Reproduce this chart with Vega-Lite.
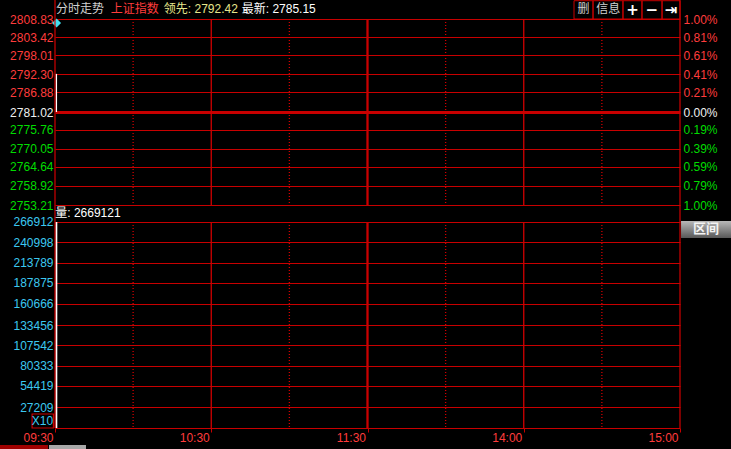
{
  "$schema": "https://vega.github.io/schema/vega-lite/v6.json",
  "width": 625,
  "height": 428,
  "autosize": {"type": "none"},
  "padding": {"left": 55, "top": 0, "right": 51, "bottom": 21},
  "background": "#000000",
  "config": {
    "view": {"stroke": null},
    "axis": {"labelFont": "Liberation Sans", "labelFontSize": 12, "labelFlush": false, "labelOverlap": false, "labelBound": false},
    "text": {"font": "Liberation Sans, Noto Sans CJK SC", "fontSize": 12}
  },
  "datasets": {
    "price": [{"t": 0.5, "high": 2792.42, "low": 2781.02}],
    "marker": [{"t": 0.6, "price": 2807.63}],
    "volume": [{"t": 0.5, "vol": 266912}],
    "vlines": [
      {"t": 30, "kind": "dot"}, {"t": 60, "kind": "solid"}, {"t": 90, "kind": "dot"},
      {"t": 120, "kind": "noon"}, {"t": 150, "kind": "dot"}, {"t": 180, "kind": "solid"},
      {"t": 210, "kind": "dot"}
    ],
    "borders": [{"t": 0}, {"t": 240}],
    "header": [
      {"t": 0.38, "text": "分时走势", "role": "title"},
      {"t": 21.4, "text": "上证指数", "role": "name"},
      {"t": 41.8, "text": "领先: 2792.42", "role": "lead"},
      {"t": 71.7, "text": "最新: 2785.15", "role": "last"}
    ],
    "buttons": [
      {"t": 199.3, "t2": 206.6, "tm": 202.9, "label": "删", "kind": "text"},
      {"t": 206.6, "t2": 218.1, "tm": 212.4, "label": "信息", "kind": "text"},
      {"t": 218.1, "t2": 225.4, "tm": 221.8, "label": "+", "kind": "icon"},
      {"t": 225.4, "t2": 233.1, "tm": 229.2, "label": "−", "kind": "icon"},
      {"t": 233.1, "t2": 240, "tm": 236.6, "label": "⇥", "kind": "icon"}
    ],
    "volLabel": [{"t": 0.1, "text": "量: 2669121"}],
    "rangeBtn": [{"t": 240.4, "t2": 259.6, "tm": 250, "label": "区间", "vtop": 268208, "vbot": 246181, "vmid": 257842}],
    "x10": [{"t": -8.8, "t2": -0.6, "tm": -4.8, "label": "X10", "vtop": 18140, "vbot": 0, "vmid": 8422}],
    "tabs": [{"t": -21.2, "t2": -2.7, "tab": "active"}, {"t": -2.3, "t2": 11.9, "tab": "inactive"}]
  },
  "encoding": {
    "x": {
      "field": "t", "type": "quantitative",
      "scale": {"domain": [0, 240], "nice": false, "zero": false},
      "axis": {
        "title": null, "values": [0, 60, 120, 180, 240],
        "labelExpr": "datum.value == 0 ? '09:30' : datum.value == 60 ? '10:30' : datum.value == 120 ? '11:30' : datum.value == 180 ? '14:00' : '15:00'",
        "labelAlign": "right", "labelOffset": -2, "labelBaseline": "middle", "labelPadding": 5,
        "labelColor": "#ff3c3c", "tickColor": "#c80000", "tickSize": 4,
        "domainColor": "#c80000", "grid": false
      }
    }
  },
  "layer": [
    {
      "data": {"name": "price"},
      "mark": {"type": "rule", "color": "#ffffff", "strokeWidth": 1.5},
      "encoding": {
        "y": {
          "field": "high", "type": "quantitative",
          "scale": {"domain": [2686.526, 2814.512], "nice": false, "zero": false},
          "axis": {
            "orient": "left", "title": null,
            "values": [2808.83, 2803.42, 2798.01, 2792.30, 2786.88, 2781.02, 2775.76, 2770.05, 2764.64, 2758.92, 2753.21],
            "format": ".2f", "ticks": false, "tickSize": 0, "domain": false, "labelPadding": 2,
            "labelColor": {"condition": [{"test": "datum.value > 2781.5", "value": "#ff3c3c"}, {"test": "datum.value < 2780.5", "value": "#00dc00"}], "value": "#f0f0f0"},
            "grid": true, "gridColor": "#c80000",
            "gridWidth": {"condition": {"test": "abs(datum.value - 2781.02) < 0.01", "value": 3}, "value": 1}
          }
        },
        "y2": {"field": "low"}
      }
    },
    {
      "data": {"name": "marker"},
      "mark": {"type": "point", "shape": "diamond", "filled": true, "color": "#40e0f0", "size": 80, "opacity": 1},
      "encoding": {
        "y": {
          "field": "price", "type": "quantitative",
          "scale": {"domain": [2686.526, 2814.512], "nice": false, "zero": false},
          "axis": {
            "orient": "right", "title": null,
            "values": [2808.83, 2803.42, 2798.01, 2792.30, 2786.88, 2781.02, 2775.76, 2770.05, 2764.64, 2758.92, 2753.21],
            "labelExpr": "format(abs(datum.value - 2781.02) / 2781.02 * 100, '.2f') + '%'",
            "ticks": false, "tickSize": 0, "domain": false, "grid": false, "labelPadding": 3,
            "labelColor": {"condition": [{"test": "datum.value > 2781.5", "value": "#ff3c3c"}, {"test": "datum.value < 2780.5", "value": "#00dc00"}], "value": "#f0f0f0"}
          }
        }
      }
    },
    {
      "data": {"name": "volume"},
      "mark": {"type": "rule", "color": "#ffffff", "strokeWidth": 2},
      "encoding": {
        "y": {
          "field": "vol", "type": "quantitative",
          "scale": {"domain": [0, 554555], "nice": false, "zero": false},
          "axis": {
            "orient": "left", "title": null,
            "values": [27209, 54419, 80333, 107542, 133456, 160666, 187875, 213789, 240998, 266912],
            "format": "d", "ticks": false, "tickSize": 0, "domain": false, "labelPadding": 2,
            "labelColor": "#3cc8f0", "grid": true, "gridColor": "#c80000"
          }
        },
        "y2": {"datum": 0}
      }
    },
    {
      "data": {"name": "vlines"},
      "transform": [{"filter": "datum.kind != 'noon'"}],
      "mark": {"type": "rule", "color": "#d00000", "strokeWidth": 1.3},
      "encoding": {
        "y": {"datum": 2808.83, "type": "quantitative", "scale": {"domain": [2686.526, 2814.512], "nice": false, "zero": false}, "axis": null},
        "y2": {"datum": 2753.21},
        "strokeDash": {"field": "kind", "type": "nominal", "scale": {"domain": ["dot", "solid"], "range": [[1, 2], [1, 0]]}, "legend": null}
      }
    },
    {
      "data": {"name": "vlines"},
      "transform": [{"filter": "datum.kind != 'noon'"}],
      "mark": {"type": "rule", "color": "#d00000", "strokeWidth": 1.3},
      "encoding": {
        "y": {"datum": 266912, "type": "quantitative", "scale": {"domain": [0, 554555], "nice": false, "zero": false}, "axis": null},
        "y2": {"datum": 0},
        "strokeDash": {"field": "kind", "type": "nominal", "scale": {"domain": ["dot", "solid"], "range": [[1, 2], [1, 0]]}, "legend": null}
      }
    },
    {
      "data": {"name": "vlines"},
      "transform": [{"filter": "datum.kind == 'noon'"}],
      "mark": {"type": "rule", "color": "#c80000", "strokeWidth": 2.3},
      "encoding": {
        "y": {"datum": 2808.83, "type": "quantitative", "scale": {"domain": [2686.526, 2814.512], "nice": false, "zero": false}, "axis": null},
        "y2": {"datum": 2753.21}
      }
    },
    {
      "data": {"name": "vlines"},
      "transform": [{"filter": "datum.kind == 'noon'"}],
      "mark": {"type": "rule", "color": "#c80000", "strokeWidth": 2.3},
      "encoding": {
        "y": {"datum": 266912, "type": "quantitative", "scale": {"domain": [0, 554555], "nice": false, "zero": false}, "axis": null},
        "y2": {"datum": 0}
      }
    },
    {
      "data": {"name": "borders"},
      "mark": {"type": "rule", "color": "#d00000", "strokeWidth": 1.2},
      "encoding": {}
    },
    {
      "data": {"name": "header"},
      "mark": {"type": "text", "align": "left", "baseline": "middle", "font": "Liberation Sans, Noto Sans CJK SC", "fontSize": 12},
      "encoding": {
        "y": {"datum": 2811.82, "type": "quantitative", "scale": {"domain": [2686.526, 2814.512], "nice": false, "zero": false}, "axis": null},
        "text": {"field": "text", "type": "nominal"},
        "color": {"field": "role", "type": "nominal", "scale": {"domain": ["title", "name", "lead", "last"], "range": ["#d0d0d0", "#ff3c3c", "#e6e68c", "#ffffff"]}, "legend": null}
      }
    },
    {
      "data": {"name": "buttons"},
      "mark": {"type": "rect", "fill": null, "fillOpacity": 0, "stroke": "#c80000", "strokeWidth": 1},
      "encoding": {
        "x2": {"field": "t2"},
        "y": {"datum": 2814.3, "type": "quantitative", "scale": {"domain": [2686.526, 2814.512], "nice": false, "zero": false}, "axis": null},
        "y2": {"datum": 2808.83}
      }
    },
    {
      "data": {"name": "buttons"},
      "transform": [{"filter": "datum.kind == 'text'"}],
      "mark": {"type": "text", "align": "center", "baseline": "middle", "font": "Noto Sans CJK SC", "fontSize": 12, "color": "#d0d0d0"},
      "encoding": {
        "x": {"field": "tm", "type": "quantitative"},
        "y": {"datum": 2811.82, "type": "quantitative", "scale": {"domain": [2686.526, 2814.512], "nice": false, "zero": false}, "axis": null},
        "text": {"field": "label", "type": "nominal"}
      }
    },
    {
      "data": {"name": "buttons"},
      "transform": [{"filter": "datum.kind == 'icon'"}],
      "mark": {"type": "text", "align": "center", "baseline": "middle", "font": "DejaVu Sans", "fontWeight": "bold", "fontSize": 15, "color": "#ffffff"},
      "encoding": {
        "x": {"field": "tm", "type": "quantitative"},
        "y": {"datum": 2811.6, "type": "quantitative", "scale": {"domain": [2686.526, 2814.512], "nice": false, "zero": false}, "axis": null},
        "text": {"field": "label", "type": "nominal"}
      }
    },
    {
      "data": {"name": "volLabel"},
      "mark": {"type": "text", "align": "left", "baseline": "middle", "font": "Liberation Sans, Noto Sans CJK SC", "fontSize": 12, "color": "#ffffff"},
      "encoding": {
        "y": {"datum": 2750.82, "type": "quantitative", "scale": {"domain": [2686.526, 2814.512], "nice": false, "zero": false}, "axis": null},
        "text": {"field": "text", "type": "nominal"}
      }
    },
    {
      "data": {"name": "rangeBtn"},
      "mark": {"type": "rect", "fill": {"gradient": "linear", "x1": 0, "y1": 0, "x2": 0, "y2": 1, "stops": [{"offset": 0, "color": "#b8b8b8"}, {"offset": 1, "color": "#585858"}]}},
      "encoding": {
        "x2": {"field": "t2"},
        "y": {"field": "vtop", "type": "quantitative", "scale": {"domain": [0, 554555], "nice": false, "zero": false}, "axis": null},
        "y2": {"field": "vbot"}
      }
    },
    {
      "data": {"name": "rangeBtn"},
      "mark": {"type": "text", "align": "center", "baseline": "middle", "font": "Noto Sans CJK SC", "fontSize": 13, "fontWeight": "bold", "color": "#f4f4f4", "letterSpacing": 3},
      "encoding": {
        "x": {"field": "tm", "type": "quantitative"},
        "y": {"field": "vmid", "type": "quantitative", "scale": {"domain": [0, 554555], "nice": false, "zero": false}, "axis": null},
        "text": {"field": "label", "type": "nominal"}
      }
    },
    {
      "data": {"name": "x10"},
      "mark": {"type": "rect", "fill": "#000000", "fillOpacity": 0, "stroke": "#c80000", "strokeWidth": 1.2},
      "encoding": {
        "x2": {"field": "t2"},
        "y": {"field": "vtop", "type": "quantitative", "scale": {"domain": [0, 554555], "nice": false, "zero": false}, "axis": null},
        "y2": {"field": "vbot"}
      }
    },
    {
      "data": {"name": "x10"},
      "mark": {"type": "text", "align": "center", "baseline": "middle", "font": "Liberation Sans", "fontSize": 12, "color": "#3cc8f0"},
      "encoding": {
        "x": {"field": "tm", "type": "quantitative"},
        "y": {"field": "vmid", "type": "quantitative", "scale": {"domain": [0, 554555], "nice": false, "zero": false}, "axis": null},
        "text": {"field": "label", "type": "nominal"}
      }
    },
    {
      "data": {"name": "tabs"},
      "mark": {"type": "rect"},
      "encoding": {
        "x2": {"field": "t2"},
        "y": {"datum": -22027, "type": "quantitative", "scale": {"domain": [0, 554555], "nice": false, "zero": false}, "axis": null},
        "y2": {"datum": -40000},
        "color": {"field": "tab", "type": "nominal", "scale": {"domain": ["active", "inactive"], "range": ["#a00000", "#a8a8a8"]}, "legend": null}
      }
    }
  ],
  "resolve": {"scale": {"y": "independent", "color": "independent"}, "axis": {"y": "independent"}}
}
